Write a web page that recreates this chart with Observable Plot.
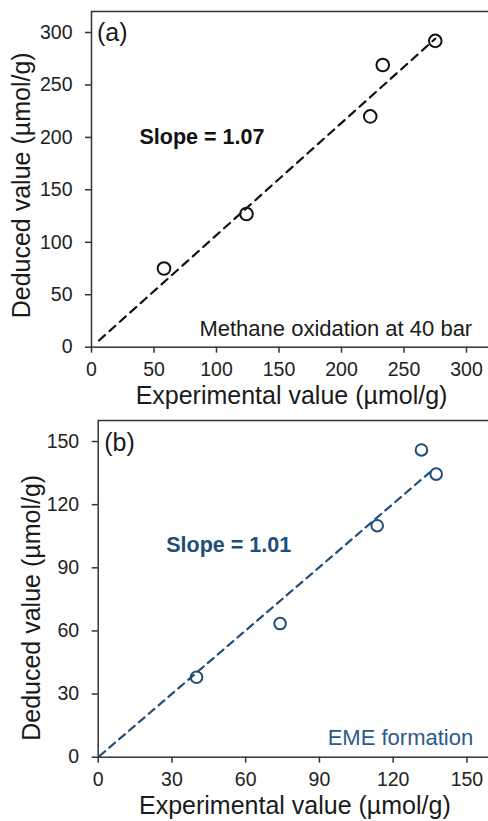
<!DOCTYPE html>
<html><head><meta charset="utf-8">
<script src="https://cdn.jsdelivr.net/npm/d3@7"></script>
<script src="https://cdn.jsdelivr.net/npm/@observablehq/plot@0.6"></script>
<style>
html,body{margin:0;padding:0;background:#fff;}
.panel{width:488px;overflow:hidden;}
.panel svg{max-width:none !important;display:block;}
</style></head><body>
<div id="a" class="panel" style="height:410px"></div>
<div id="b" class="panel" style="height:411px"></div>
<script>
// Panel (a): Methane oxidation at 40 bar
const expA = [58, 124, 223, 233, 275];
const dedA = [75, 127, 220, 269, 292];
const fitAx = [6, 275];
const fitAy = [6.4, 294];
const ticksA = [0, 50, 100, 150, 200, 250, 300];
const domainA = [0, 320];
const tagA = "(a)";
const slopeA = "Slope = 1.07";
const noteA = "Methane oxidation at 40 bar";

// Panel (b): EME formation
const expB = [40, 74, 113.5, 131.5, 137.5];
const dedB = [38, 63.5, 110, 146, 134.5];
const fitBx = [0.5, 135];
const fitBy = [0.5, 135.5];
const ticksB = [0, 30, 60, 90, 120, 150];
const domainB = [0, 160];
const tagB = "(b)";
const slopeB = "Slope = 1.01";
const noteB = "EME formation";

const xTitle = "Experimental value (µmol/g)";
const yTitle = "Deduced value (µmol/g)";

function panel(o) {
  const pts = o.xs.map((x, i) => ({x, y: o.ys[i]}));
  const fit = o.fx.map((x, i) => ({x, y: o.fy[i]}));
  return Plot.plot({
    width: 491, height: o.h,
    marginLeft: o.ml, marginRight: 0, marginTop: o.mt, marginBottom: o.mb,
    style: {fontFamily: "'Liberation Sans', Arial, sans-serif", background: "white", color: "#222"},
    x: {domain: o.domain},
    y: {domain: o.domain},
    marks: [
      Plot.frame({stroke: "#333", strokeWidth: 1.5}),
      Plot.axisX({ticks: o.ticks, tickSize: 6, tickPadding: 9, fontSize: 19.5, label: null, stroke: "#333", strokeWidth: 1.5, tickFormat: d => d}),
      Plot.axisY({ticks: o.ticks, tickSize: 6, tickPadding: 13, fontSize: 19.5, label: null, stroke: "#333", strokeWidth: 1.5, tickFormat: d => d}),
      Plot.line(fit, {x: "x", y: "y", stroke: o.color, strokeWidth: 2.2, strokeDasharray: o.dash}),
      Plot.dot(pts, {x: "x", y: "y", r: o.r, stroke: o.color, strokeWidth: 2, fill: "none"}),
      Plot.text([o.tag], {frameAnchor: "top-left", dx: o.tagDx, dy: o.tagDy, textAnchor: "start", lineAnchor: "bottom", fontSize: 25, fill: "#1a1a1a"}),
      Plot.text([o.slope], {frameAnchor: "top-left", dx: o.slDx, dy: o.slDy, textAnchor: "start", lineAnchor: "bottom", fontSize: 21.5, fontWeight: "bold", fill: o.color}),
      Plot.text([o.note], {frameAnchor: "bottom-right", dx: o.noDx, dy: o.noDy, textAnchor: "end", lineAnchor: "bottom", fontSize: 22, fill: o.noteColor}),
      Plot.text([xTitle], {frameAnchor: "bottom", dy: 56.3, textAnchor: "middle", lineAnchor: "bottom", fontSize: 25, fill: "#1a1a1a"}),
      Plot.text([yTitle], {frameAnchor: "left", rotate: -90, dx: o.ytDx, dy: o.ytDy, textAnchor: "middle", lineAnchor: "top", fontSize: 25, fill: "#1a1a1a"})
    ]
  });
}

document.getElementById("a").append(panel({
  xs: expA, ys: dedA, fx: fitAx, fy: fitAy, ticks: ticksA, domain: domainA,
  color: "#111", noteColor: "#1a1a1a", tag: tagA, slope: slopeA, note: noteA,
  h: 410, ml: 91, mt: 11, mb: 63.3, r: 6.3, dash: "8,6",
  tagDx: 5.5, tagDy: 29, slDx: 48, slDy: 132, noDx: -19.3, noDy: -11.7,
  ytDx: -79, ytDy: 6
}));
document.getElementById("b").append(panel({
  xs: expB, ys: dedB, fx: fitBx, fy: fitBy, ticks: ticksB, domain: domainB,
  color: "#1f4e79", noteColor: "#2a5b8c", tag: tagB, slope: slopeB, note: noteB,
  h: 411, ml: 97.7, mt: 10, mb: 64.3, r: 5.8, dash: "7.5,5.5",
  tagDx: 6, tagDy: 30, slDx: 68, slDy: 131.7, noDx: -18.3, noDy: -12.4,
  ytDx: -76, ytDy: 19
}));
</script>
</body></html>
